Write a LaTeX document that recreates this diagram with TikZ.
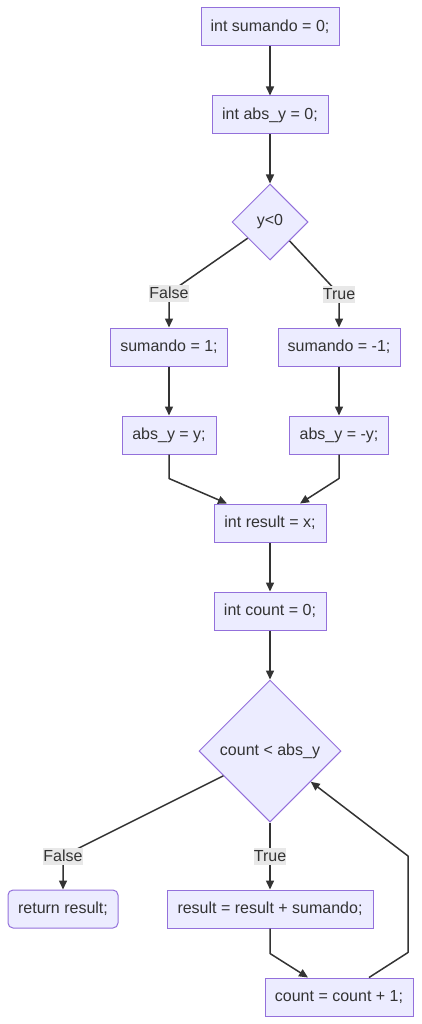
\documentclass[tikz,border=0pt]{standalone}
\usepackage{fontspec}
\setmainfont{Liberation Sans}
\usetikzlibrary{shapes.geometric,arrows.meta,calc}
\definecolor{nodefill}{HTML}{ECECFF}
\definecolor{nodeline}{HTML}{9370DB}
\definecolor{edgeline}{HTML}{333333}
\definecolor{lblfill}{HTML}{E8E8E8}
\begin{document}
\begin{tikzpicture}[x=1pt,y=-1pt,
  txt/.style={text=edgeline, font=\fontsize{16pt}{19pt}\selectfont},
  box/.style={txt, draw=nodeline, fill=nodefill, line width=1pt, minimum height=38pt, inner xsep=6pt},
  rbox/.style={box, rounded corners=5pt},
  dec/.style={txt, diamond, aspect=1, draw=nodeline, fill=nodefill, line width=1pt, inner sep=0pt},
  edge/.style={draw=edgeline, line width=1.5pt, line join=round, -{Triangle[length=9pt,width=8pt]}},
  lbl/.style={txt, fill=lblfill, inner sep=0pt, minimum height=17pt}]
\path[use as bounding box] (0,0) rectangle (421,1024);
\node[box, minimum width=138pt] (n1) at (270,27) {int sumando = 0;};
\node[box, minimum width=116pt] (n2) at (270,115) {int abs\_y = 0;};
\node[dec, minimum size=76pt] (d1) at (270,222) {y<0};
\node[box, minimum width=117pt] (n3) at (169,347) {sumando = 1;};
\node[box, minimum width=122pt] (n4) at (339,347) {sumando = -1;};
\node[box, minimum width=94pt] (n5) at (169,435) {abs\_y = y;};
\node[box, minimum width=99pt] (n6) at (339,435) {abs\_y = -y;};
\node[box, minimum width=112pt] (n7) at (270,523) {int result = x;};
\node[box, minimum width=112pt] (n8) at (270,611) {int count = 0;};
\node[dec, minimum size=142pt] (d2) at (270,751) {count < abs\_y};
\node[rbox, minimum width=110pt] (n9) at (63,909) {return result;};
\node[box, minimum width=206pt] (n10) at (270,909) {result = result + sumando;};
\node[box, minimum width=148pt] (n11) at (339,997) {count = count + 1;};
\coordinate (l1) at (169,293);
\coordinate (l2) at (339,294);
\coordinate (l3) at (63,856);
\coordinate (l4) at (270,856);
\coordinate (k1) at (408,856);
\draw[edge] (n1) -- (n2);
\draw[edge] (n2) -- (d1);
\draw[edge] (d1.216) -- (l1) -- (n3.north);
\draw[edge] (d1.316) -- (l2) -- (n4.north);
\draw[edge] (n3) -- (n5);
\draw[edge] (n4) -- (n6);
\draw[edge] (n5.south) -- ++(0,24) -- ([xshift=-43pt]n7.north);
\draw[edge] (n6.south) -- ++(0,24) -- ([xshift=30pt]n7.north);
\draw[edge] (n7) -- (n8);
\draw[edge] (n8) -- (d2);
\draw[edge] (d2.208) -- (l3) -- (n9.north);
\draw[edge] (d2.south) -- (n10.north);
\draw[edge] (n10.south) -- ++(0,25) -- ([xshift=-31pt]n11.north);
\draw[edge] ([xshift=30pt]n11.north) -- ++(39,-25) -- (k1) -- (d2.323);
\node[lbl] (lf1) at (l1) {False};
\node[lbl] (lt1) at (l2) {True};
\node[lbl] (lf2) at (l3) {False};
\node[lbl] (lt2) at (l4) {True};
\end{tikzpicture}
\end{document}
